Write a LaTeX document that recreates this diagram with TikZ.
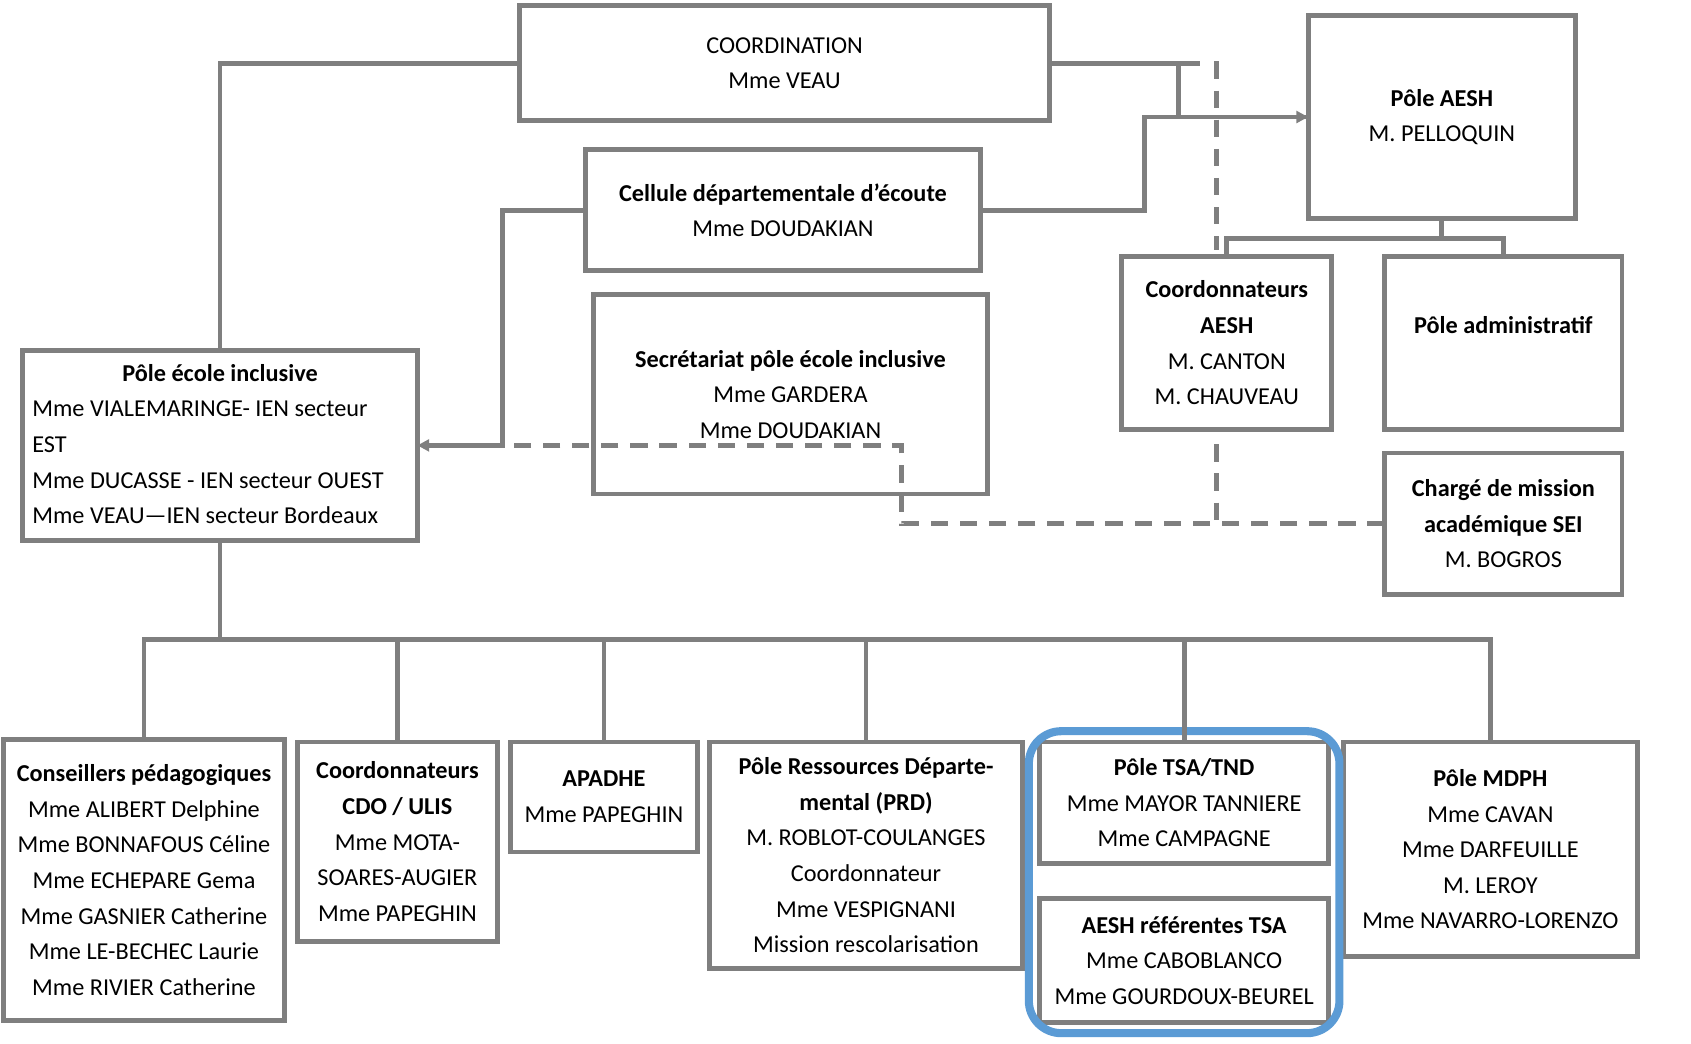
\documentclass[tikz,border=0pt]{standalone}
\usepackage{fontspec}
\setmainfont{Carlito}
\usetikzlibrary{arrows.meta,fit}
\definecolor{boxgray}{RGB}{127,127,127}
\definecolor{tsablue}{RGB}{91,155,213}

\begin{document}
\begin{tikzpicture}[x=1pt,y=-1pt,
  every node/.style={draw=boxgray, line width=4.5pt, outer sep=0pt, inner sep=0pt, align=center, font=\fontsize{22.5}{33}\selectfont},
  conn/.style={draw=boxgray, line width=4.5pt},
  dashconn/.style={draw=boxgray, line width=4.5pt, dash pattern=on 16pt off 11pt},
  tip/.style={-{Triangle[length=11pt,width=11pt]}},
  blueframe/.style={draw=tsablue, line width=7.5pt, rounded corners=30pt, inner sep=10pt}]
\useasboundingbox (0,0) rectangle (1568,968);

\node[minimum width=491pt, minimum height=107pt] (coord) at (727.5,58.5) {COORDINATION\\Mme VEAU};
\node[minimum width=248pt, minimum height=189pt] (aesh) at (1337,108.5) {\textbf{Pôle AESH}\\M. PELLOQUIN};
\node[minimum width=366pt, minimum height=112pt] (cellule) at (726,195) {\textbf{Cellule départementale d’écoute}\\Mme DOUDAKIAN};
\node[minimum width=366pt, minimum height=185pt] (secretariat) at (733,365.5) {\textbf{Secrétariat pôle école inclusive}\\Mme GARDERA\\Mme DOUDAKIAN};
\node[minimum width=195pt, minimum height=160pt] (caesh) at (1137.5,318) {\textbf{Coordonnateurs}\\\textbf{AESH}\\M. CANTON\\M. CHAUVEAU};
\node[minimum width=220pt, minimum height=160pt] (admin) at (1394,318) {\textbf{Pôle administratif}\\\mbox{}};
\node[minimum width=220pt, minimum height=131pt] (charge) at (1394,485.5) {\textbf{Chargé de mission}\\\textbf{académique SEI}\\M. BOGROS};
\node[minimum width=366pt, minimum height=176pt] (ecole) at (204,413) {\begin{tabular}{@{}l@{}}
  \makebox[348pt]{\textbf{Pôle école inclusive}}\\
  Mme VIALEMARINGE- IEN secteur\\
  EST\\
  Mme DUCASSE - IEN secteur OUEST\\
  Mme VEAU—IEN secteur Bordeaux
\end{tabular}};

\node[minimum width=261pt, minimum height=260pt] (cp) at (133.5,816) {\textbf{Conseillers pédagogiques}\\Mme ALIBERT Delphine\\Mme BONNAFOUS Céline\\Mme ECHEPARE Gema\\Mme GASNIER Catherine\\Mme LE-BECHEC Laurie\\Mme RIVIER Catherine};
\node[minimum width=185pt, minimum height=185pt] (cdo) at (368.5,780.5) {\textbf{Coordonnateurs}\\\textbf{CDO / ULIS}\\Mme MOTA-\\SOARES-AUGIER\\Mme PAPEGHIN};
\node[minimum width=174pt, minimum height=102pt] (apadhe) at (560,739) {\textbf{APADHE}\\Mme PAPEGHIN};
\node[minimum width=290pt, minimum height=210pt] (prd) at (803,793) {\textbf{Pôle Ressources Départe-}\\\textbf{mental (PRD)}\\M. ROBLOT-COULANGES\\Coordonnateur\\Mme VESPIGNANI\\Mission rescolarisation};
\node[minimum width=268pt, minimum height=113pt] (tsa) at (1098,744.5) {\textbf{Pôle TSA/TND}\\Mme MAYOR TANNIERE\\Mme CAMPAGNE};
\node[minimum width=268pt, minimum height=115pt] (referentes) at (1098,890.5) {\textbf{AESH référentes TSA}\\Mme CABOBLANCO\\Mme GOURDOUX-BEUREL};
\node[minimum width=272pt, minimum height=199pt] (mdph) at (1382,787.5) {\textbf{Pôle MDPH}\\Mme CAVAN\\Mme DARFEUILLE\\M. LEROY\\Mme NAVARRO-LORENZO};
\node[blueframe, fit=(tsa)(referentes)] (tsagroup) {};

\coordinate (c1) at (1113,58.5);
\coordinate (c2) at (1093,58.5);
\coordinate (c3) at (1061,150);
\coordinate (c4) at (466,300);
\coordinate (c5) at (836,450);
\coordinate (c6) at (1337,221);
\coordinate (bus) at (204,593);
\coordinate (d1) at (1128,57);
\coordinate (d2) at (1128,232);
\coordinate (d3) at (1128,412);
\coordinate (d4) at (1128,485.5);

\draw[conn] (coord.west) -| (ecole.north);
\draw[conn] (coord.east) -- (c1);
\draw[conn, tip] (c2) |- (aesh.west);
\draw[conn] (cellule.east) -| (c3) |- (aesh.west);
\draw[conn, tip] (cellule.west) -| (c4) |- (ecole.east);
\draw[conn] (aesh.south) -- (c6) -| (caesh.north);
\draw[conn] (c6) -| (admin.north);
\draw[dashconn] (charge.west) -| (c5) |- (ecole.east);
\draw[dashconn] (d1) -- (d2);
\draw[dashconn] (d3) -- (d4);

\draw[conn] (ecole.south) -- (bus);
\draw[conn] (bus) -| (cp.north);
\draw[conn] (bus) -| (cdo.north);
\draw[conn] (bus) -| (apadhe.north);
\draw[conn] (bus) -| (prd.north);
\draw[conn] (bus) -| (tsa.north);
\draw[conn] (bus) -| (mdph.north);
\end{tikzpicture}
\end{document}
